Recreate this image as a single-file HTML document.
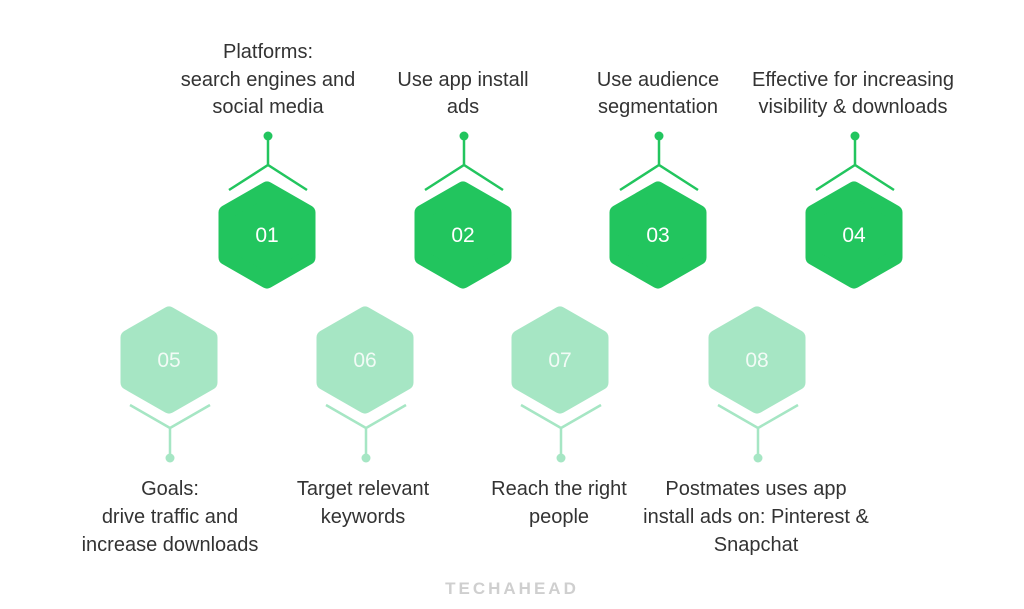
<!DOCTYPE html>
<html><head><meta charset="utf-8"><style>
html,body{margin:0;padding:0;background:#fff;}
svg{display:block;}
text{font-family:"Liberation Sans",sans-serif;}
</style></head><body>
<svg width="1024" height="609" viewBox="0 0 1024 609" xmlns="http://www.w3.org/2000/svg">
<defs>
<path id="hx" d="M0,-46 L41,-22.5 L41,22.5 L0,46 L-41,22.5 L-41,-22.5 Z"/>
</defs>
<g fill="#22c55e" stroke="#22c55e" stroke-width="15" stroke-linejoin="round">
<use href="#hx" x="267" y="235"/><use href="#hx" x="463" y="235"/><use href="#hx" x="658" y="235"/><use href="#hx" x="854" y="235"/>
</g>
<g fill="#a6e6c4" stroke="#a6e6c4" stroke-width="15" stroke-linejoin="round">
<use href="#hx" x="169" y="360"/><use href="#hx" x="365" y="360"/><use href="#hx" x="560" y="360"/><use href="#hx" x="757" y="360"/>
</g>
<g stroke="#22c55e" stroke-width="2.5" fill="none">
<path d="M268,136V165M229,190L268,165L307,190"/>
<path d="M464,136V165M425,190L464,165L503,190"/>
<path d="M659,136V165M620,190L659,165L698,190"/>
<path d="M855,136V165M816,190L855,165L894,190"/>
</g>
<g fill="#22c55e"><circle cx="268" cy="136" r="4.5"/><circle cx="464" cy="136" r="4.5"/><circle cx="659" cy="136" r="4.5"/><circle cx="855" cy="136" r="4.5"/></g>
<g stroke="#a6e6c4" stroke-width="2.5" fill="none">
<path d="M170,458V428M130,405L170,428L210,405"/>
<path d="M366,458V428M326,405L366,428L406,405"/>
<path d="M561,458V428M521,405L561,428L601,405"/>
<path d="M758,458V428M718,405L758,428L798,405"/>
</g>
<g fill="#a6e6c4"><circle cx="170" cy="458" r="4.5"/><circle cx="366" cy="458" r="4.5"/><circle cx="561" cy="458" r="4.5"/><circle cx="758" cy="458" r="4.5"/></g>
<g fill="#ffffff" font-size="21" text-anchor="middle">
<text x="267" y="242">01</text><text x="463" y="242">02</text><text x="658" y="242">03</text><text x="854" y="242">04</text>
</g>
<g fill="#f2fbf6" font-size="21" text-anchor="middle">
<text x="169" y="367">05</text><text x="365" y="367">06</text><text x="560" y="367">07</text><text x="757" y="367">08</text>
</g>
<g fill="#333" font-size="20" text-anchor="middle">
<text x="268" y="58">Platforms:</text>
<text x="268" y="86">search engines and</text>
<text x="268" y="113">social media</text>
<text x="463" y="86">Use app install</text>
<text x="463" y="113">ads</text>
<text x="658" y="86">Use audience</text>
<text x="658" y="113">segmentation</text>
<text x="853" y="86">Effective for increasing</text>
<text x="853" y="113">visibility &amp; downloads</text>
<text x="170" y="495">Goals:</text>
<text x="170" y="523">drive traffic and</text>
<text x="170" y="551">increase downloads</text>
<text x="363" y="495">Target relevant</text>
<text x="363" y="523">keywords</text>
<text x="559" y="495">Reach the right</text>
<text x="559" y="523">people</text>
<text x="756" y="495">Postmates uses app</text>
<text x="756" y="523">install ads on: Pinterest &amp;</text>
<text x="756" y="551">Snapchat</text>
</g>
<text x="512" y="594" text-anchor="middle" font-size="17" font-weight="bold" fill="#cfcfcf" letter-spacing="3">TECHAHEAD</text>
</svg>
</body></html>
